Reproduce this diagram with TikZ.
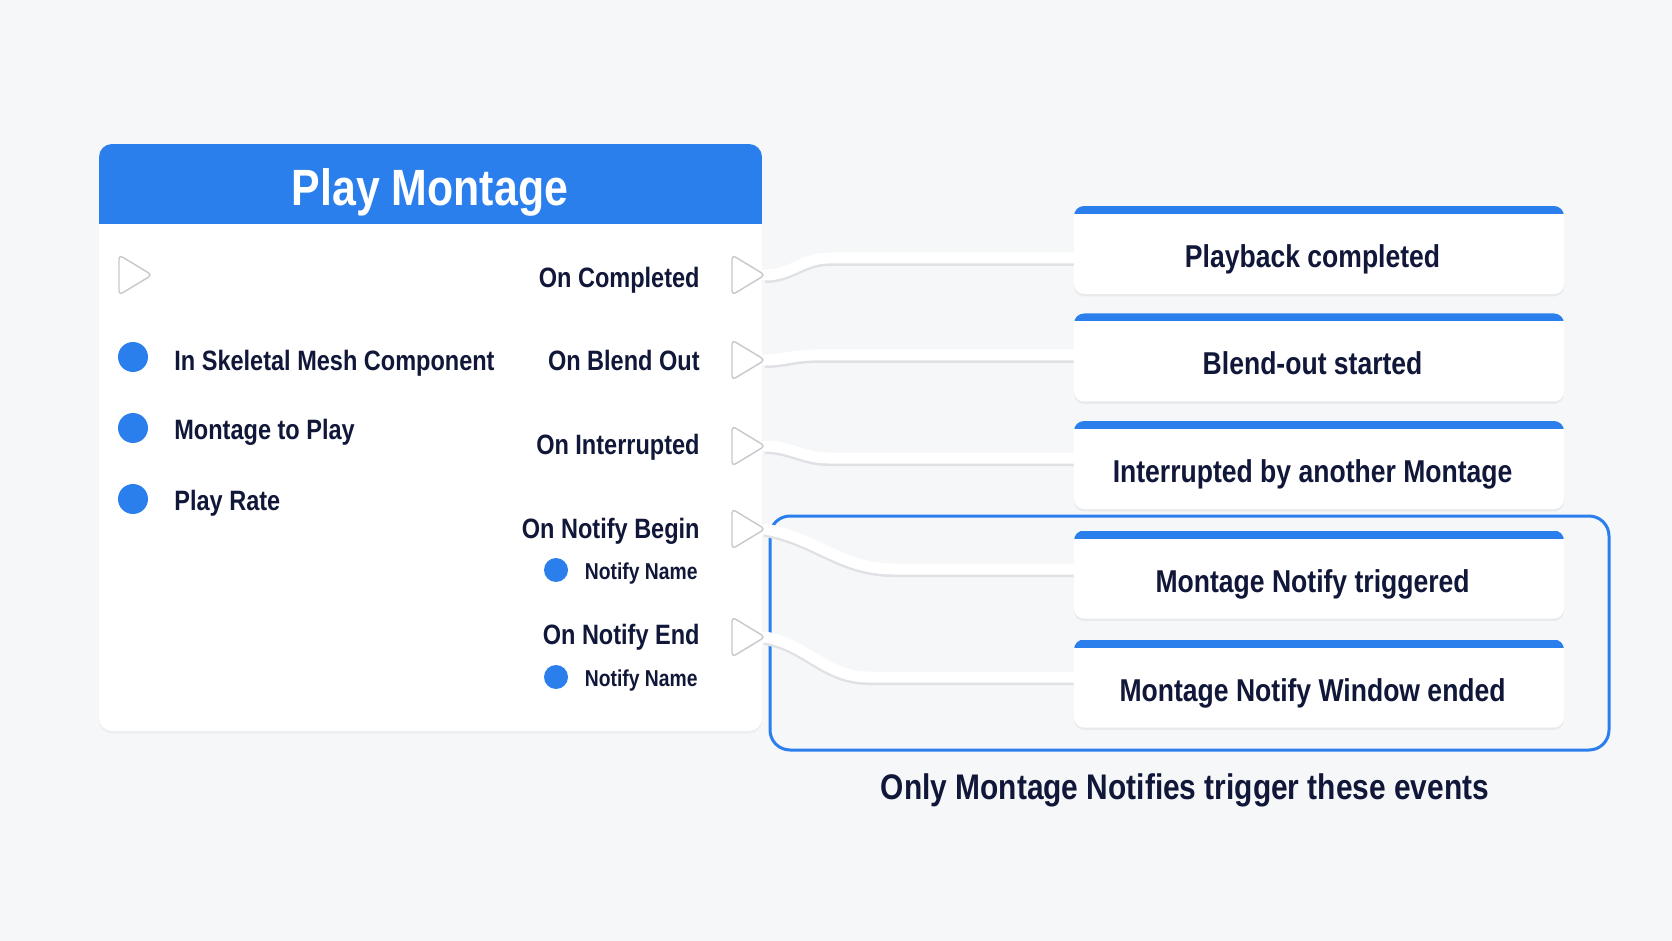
\documentclass[tikz,border=0pt]{standalone}
\usepackage{fontspec}
\setmainfont{Liberation Sans}[FakeStretch=0.84]
\usetikzlibrary{calc,shadows}
\definecolor{bg}{HTML}{F6F7F9}
\definecolor{ublue}{HTML}{2A7FED}
\definecolor{navy}{HTML}{111739}
\definecolor{pinedge}{HTML}{C6C8CC}
\definecolor{wireshadow}{HTML}{DFE1E5}
\begin{document}
\begin{tikzpicture}[x=0.5pt,y=-0.5pt,
  lbl/.style={font=\fontsize{14}{16}\selectfont\bfseries, text=navy, inner sep=0pt},
  smalllbl/.style={font=\fontsize{11.5}{13}\selectfont\bfseries, text=navy, inner sep=0pt},
  evbox/.style={rectangle, rounded corners=5pt, fill=white, minimum width=245pt, minimum height=44pt,
    inner sep=0pt, text height=17.5pt, text depth=0pt,
    font=\fontsize{15.8}{18}\selectfont\bfseries, text=navy,
    drop shadow={opacity=0.10, shadow xshift=0pt, shadow yshift=-1.2pt},
    path picture={\fill[ublue, sharp corners] (path picture bounding box.north west) rectangle ([yshift=-4pt]path picture bounding box.north east);}},
  pindot/.style={circle, fill=ublue, minimum size=15pt, inner sep=0pt},
  sdot/.style={circle, fill=ublue, minimum size=12pt, inner sep=0pt},
  wire/.style={line width=5.5pt, draw=white, line cap=round,
    preaction={draw=wireshadow, line width=6.2pt, transform canvas={yshift=-0.9pt}}},
  pintri/.style={draw=pinedge, fill=white, line width=0.7pt, rounded corners=2pt, line join=round}
]
\useasboundingbox[fill=bg] (0,0) rectangle (1672,941);

% main node
\node[rectangle, rounded corners=6.5pt, fill=white, minimum width=331.5pt, minimum height=293.5pt, inner sep=0pt,
  drop shadow={opacity=0.08, shadow xshift=0pt, shadow yshift=-1.2pt},
  path picture={\fill[ublue, sharp corners] (path picture bounding box.north west) rectangle ([yshift=-40pt]path picture bounding box.north east);}]
  (main) at (430.5,437.5) {};
\node[font=\fontsize{25.5}{30}\selectfont\bfseries, text=white, inner sep=0pt] (title) at (430,192) {Play Montage};

% event boxes
\node[evbox] (b1) at (1319,250) {Playback completed\hspace*{6.4pt}};
\node[evbox] (b2) at (1319,357.5) {Blend-out started\hspace*{6.4pt}};
\node[evbox] (b3) at (1319,465) {Interrupted by another Montage\hspace*{6.4pt}};

% group frame
\node[draw=ublue, line width=1.5pt, rounded corners=10pt, minimum width=419.5pt, minimum height=117pt, inner sep=0pt] (grp) at (1189.5,633) {};
\node[evbox] (b4) at (1319,574.5) {Montage Notify triggered\hspace*{6.4pt}};
\node[evbox] (b5) at (1319,683.5) {Montage Notify Window ended\hspace*{6.4pt}};
\node[font=\fontsize{17.8}{21}\selectfont\bfseries, text=navy, inner sep=0pt, anchor=mid] (cap) at (1185,794) {Only Montage Notifies trigger these events};

% pin tips
\coordinate (tin) at (152,275);
\coordinate (t1) at (765,275);
\coordinate (t2) at (765,360);
\coordinate (t3) at (765,446);
\coordinate (t4) at (765,529);
\coordinate (t5) at (765,637);

% wires
\draw[wire] (t1) to[out=0,in=180] ($(b1.west)+(-245,8)$) -- ($(b1.west)+(0,8)$);
\draw[wire] (t2) to[out=0,in=180] ($(b2.west)+(-260,-2.5)$) -- ($(b2.west)+(0,-2.5)$);
\draw[wire] (t3) to[out=0,in=180] ($(b3.west)+(-245,-7)$) -- ($(b3.west)+(0,-7)$);
\draw[wire] (t4) to[out=-10,in=180] ($(b4.west)+(-180,-5.5)$) -- ($(b4.west)+(0,-5.5)$);
\draw[wire] (t5) to[out=-10,in=180] ($(b5.west)+(-205,-6.5)$) -- ($(b5.west)+(0,-6.5)$);

% exec pins
\foreach \t in {tin,t1,t2,t3,t4,t5}{
  \draw[pintri] ($(\t)+(-33,-20)$) -- (\t) -- ($(\t)+(-33,20)$) -- cycle;
}

% left input pins
\node[pindot] (p1) at (133,357) {};
\node[pindot] (p2) at (133,428) {};
\node[pindot] (p3) at (133,499) {};
\node[lbl, anchor=mid west] (l1) at (174,365) {In Skeletal Mesh Component};
\node[lbl, anchor=mid west] (l2) at (174,434) {Montage to Play};
\node[lbl, anchor=mid west] (l3) at (174,505) {Play Rate};

% right output labels
\node[lbl, anchor=mid east] (o1) at (700,282) {On Completed};
\node[lbl, anchor=mid east] (o2) at (700,365) {On Blend Out};
\node[lbl, anchor=mid east] (o3) at (700,449) {On Interrupted};
\node[lbl, anchor=mid east] (o4) at (700,533) {On Notify Begin};
\node[lbl, anchor=mid east] (o5) at (700,639) {On Notify End};
\node[sdot] (d4) at (556,570) {};
\node[sdot] (d5) at (556,677) {};
\node[smalllbl, anchor=mid east] (n4) at (698,574) {Notify Name};
\node[smalllbl, anchor=mid east] (n5) at (698,681) {Notify Name};
\end{tikzpicture}
\end{document}
